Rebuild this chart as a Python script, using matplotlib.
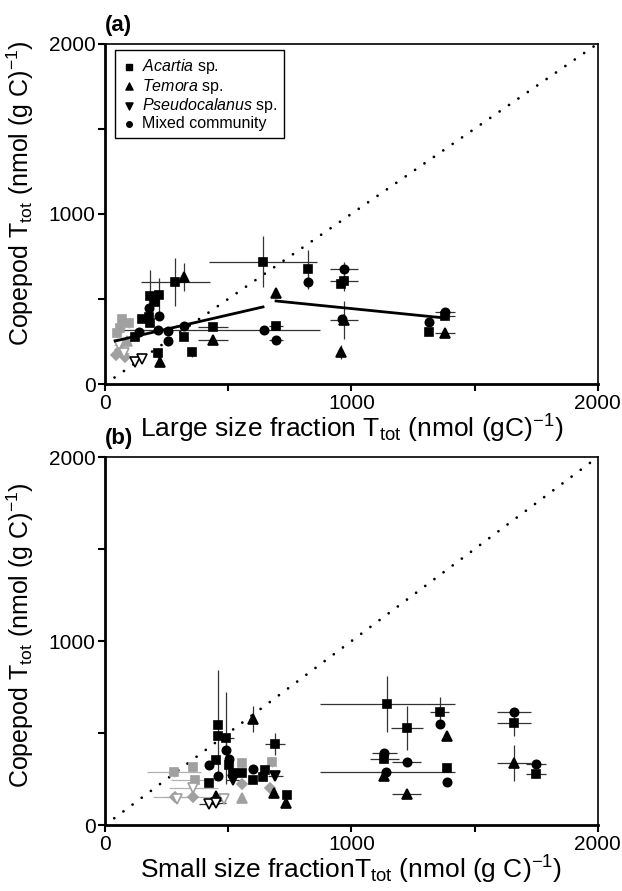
import matplotlib.pyplot as plt
import matplotlib.ticker as mticker

plt.rcParams['font.family'] = ['Liberation Sans', 'DejaVu Sans']
plt.rcParams['mathtext.fontset'] = 'custom'
plt.rcParams['mathtext.rm'] = 'Liberation Sans'
plt.rcParams['mathtext.it'] = 'Liberation Sans:italic'
plt.rcParams['mathtext.bf'] = 'Liberation Sans:bold'

# ---------------- panel (a): large size fraction ----------------
a_acartia_x = [641, 823, 970, 957, 284, 183, 219, 203, 150, 183, 179, 438, 694, 122, 320, 353, 215, 1314, 1379]
a_acartia_y = [718, 676, 606, 588, 600, 518, 524, 482, 382, 359, 394, 335, 341, 276, 276, 188, 182, 306, 400]
a_acartia_xe = [220, 0, 55, 0, 140, 0, 0, 0, 0, 0, 0, 60, 30, 0, 0, 0, 0, 0, 40]
a_acartia_ye = [150, 110, 60, 0, 140, 150, 100, 0, 0, 0, 0, 0, 0, 0, 0, 30, 30, 0, 0]

a_temora_x = [320, 694, 957, 970, 438, 223, 1379]
a_temora_y = [629, 535, 188, 376, 259, 129, 300]
a_temora_xe = [0, 0, 0, 55, 60, 0, 40]
a_temora_ye = [80, 0, 40, 110, 0, 0, 30]

a_pseudo_x = [122, 150]
a_pseudo_y = [129, 147]

a_mixed_x = [823, 970, 963, 645, 694, 1314, 1379, 179, 219, 320, 215, 256, 256, 138]
a_mixed_y = [600, 676, 382, 318, 259, 365, 424, 447, 400, 341, 318, 312, 253, 306]
a_mixed_xe_lo = [0, 55, 0, 572, 30, 0, 40, 0, 0, 0, 0, 0, 0, 0]
a_mixed_xe_hi = [0, 55, 0, 227, 30, 0, 40, 0, 0, 0, 0, 0, 0, 0]
a_mixed_ye = [40, 40, 0, 0, 0, 0, 0, 60, 0, 0, 0, 0, 0, 0]

a_grey_sq_x = [70, 95, 60, 50]
a_grey_sq_y = [380, 360, 330, 300]
a_grey_ci_x = [45, 60, 80]
a_grey_ci_y = [170, 200, 160]
a_grey_open_x = [55, 75]
a_grey_open_y = [230, 185]
a_grey_tri_x = [90]
a_grey_tri_y = [250]

a_fit1_x = [41, 641]
a_fit1_y = [253, 453]
a_fit2_x = [694, 1379]
a_fit2_y = [488, 388]

# ---------------- panel (b): small size fraction ----------------
b_acartia_x = [1146, 1224, 1358, 1659, 1748, 1134, 1390, 460, 460, 492, 691, 451, 504, 423, 520, 557, 602, 650, 643, 740]
b_acartia_y = [658, 527, 614, 554, 277, 359, 310, 543, 484, 473, 440, 353, 326, 228, 283, 283, 245, 299, 261, 163]
b_acartia_xe_lo = [272, 65, 40, 70, 40, 60, 0, 0, 0, 30, 40, 0, 0, 0, 0, 0, 0, 0, 0, 0]
b_acartia_xe_hi = [273, 65, 40, 70, 40, 60, 0, 0, 0, 30, 40, 0, 0, 0, 0, 0, 0, 0, 0, 0]
b_acartia_ye = [150, 120, 80, 70, 0, 0, 0, 300, 0, 250, 60, 0, 0, 0, 0, 0, 0, 0, 0, 0]

b_temora_x = [602, 1390, 1659, 1134, 1224, 687, 736, 451]
b_temora_y = [576, 484, 337, 266, 168, 174, 120, 158]
b_temora_xe = [0, 0, 70, 0, 60, 0, 0, 0]
b_temora_ye = [70, 0, 100, 0, 0, 0, 0, 0]

b_pseudo_x = [520, 691]
b_pseudo_y = [245, 266]
b_pseudo_open_x = [423, 451]
b_pseudo_open_y = [114, 120]

b_mixed_x = [1358, 1659, 1748, 1134, 1224, 1142, 1390, 492, 504, 423, 459, 602]
b_mixed_y = [549, 614, 332, 391, 342, 288, 234, 408, 359, 326, 266, 304]
b_mixed_xe_lo = [0, 70, 40, 50, 60, 268, 0, 0, 0, 0, 0, 0]
b_mixed_xe_hi = [0, 70, 40, 50, 60, 277, 0, 0, 0, 0, 0, 0]
b_mixed_ye = [0, 0, 0, 0, 0, 0, 0, 60, 0, 0, 0, 0]

b_grey_sq_x = [280, 358, 366, 557, 679]
b_grey_sq_y = [288, 315, 245, 337, 342]
b_grey_sq_xe = [110, 0, 100, 0, 0]
b_grey_ci_x = [285, 358, 557, 671]
b_grey_ci_y = [152, 152, 223, 201]
b_grey_ci_xe = [90, 120, 0, 0]
b_grey_open_x = [358, 484, 290]
b_grey_open_y = [201, 141, 140]
b_grey_open_xe = [100, 0, 0]
b_grey_tri_x = [557]
b_grey_tri_y = [147]

BLACK = 'black'
GREY = '#a0a0a0'
EBAR = '#333333'
EBAR_G = '#b0b0b0'


def style_axes(ax, xlabel, ylab_y):
    ax.set_xlim(0, 2000)
    ax.set_ylim(0, 2000)
    ax.xaxis.set_major_locator(mticker.MultipleLocator(1000))
    ax.yaxis.set_major_locator(mticker.MultipleLocator(1000))
    ax.xaxis.set_minor_locator(mticker.MultipleLocator(500))
    ax.yaxis.set_minor_locator(mticker.MultipleLocator(500))
    ax.tick_params(which='both', direction='out', length=5, width=1.5, labelsize=15, pad=2)
    for s in ['left', 'bottom']:
        ax.spines[s].set_linewidth(2)
    for s in ['top', 'right']:
        ax.spines[s].set_linewidth(1.2)
    ax.set_xlabel(xlabel, fontsize=19, labelpad=0)
    ax.set_ylabel(r'Copepod T$_{\mathregular{tot}}$ (nmol (g C)$^{\mathregular{-1}}$)', fontsize=18)
    ax.yaxis.set_label_coords(-0.14, ylab_y)
    ax.plot([0, 2000], [0, 2000], color='black', lw=2, linestyle=(0, (0.01, 4.1)),
            dash_capstyle='round', zorder=1)


def eb(ax, x, y, xerr, yerr, marker, color, ecolor, ms, mfc=None, label=None):
    ax.errorbar(x, y, xerr=xerr, yerr=yerr, fmt=marker, color=color, ecolor=ecolor,
                elinewidth=0.9, capsize=0, ms=ms, mfc=mfc if mfc else color,
                mec=color, mew=1.2, label=label, zorder=3)


fig = plt.figure(figsize=(6.22, 8.91), dpi=100)
ax1 = fig.add_axes([0.169, 0.569, 0.792, 0.382])
ax2 = fig.add_axes([0.169, 0.074, 0.792, 0.413])

# panel a
style_axes(ax1, r'Large size fraction T$_{\mathregular{tot}}$ (nmol (gC)$^{\mathregular{-1}}$)', 0.56)
eb(ax1, a_grey_sq_x, a_grey_sq_y, 20, 30, 's', GREY, EBAR_G, 6)
eb(ax1, a_grey_ci_x, a_grey_ci_y, 20, 20, 'D', GREY, EBAR_G, 5.5)
eb(ax1, a_grey_open_x, a_grey_open_y, 20, 20, 'v', GREY, EBAR_G, 6.5, mfc='white')
eb(ax1, a_grey_tri_x, a_grey_tri_y, 20, 20, '^', GREY, EBAR_G, 6.5)
eb(ax1, a_acartia_x, a_acartia_y, a_acartia_xe, a_acartia_ye, 's', BLACK, EBAR, 6)
eb(ax1, a_temora_x, a_temora_y, a_temora_xe, a_temora_ye, '^', BLACK, EBAR, 6.5)
eb(ax1, a_pseudo_x, a_pseudo_y, 0, 0, 'v', BLACK, EBAR, 6.5, mfc='white')
eb(ax1, a_mixed_x, a_mixed_y, [a_mixed_xe_lo, a_mixed_xe_hi], a_mixed_ye, 'o', BLACK, EBAR, 6)
ax1.plot(a_fit1_x, a_fit1_y, color='black', lw=2, zorder=4)
ax1.plot(a_fit2_x, a_fit2_y, color='black', lw=2, zorder=4)

# legend handles
h_ac = ax1.scatter([], [], marker='s', color='black', s=22)
h_te = ax1.scatter([], [], marker='^', color='black', s=26)
h_ps = ax1.scatter([], [], marker='v', color='black', s=26)
h_mi = ax1.scatter([], [], marker='o', color='black', s=16)
leg = ax1.legend([h_ac, h_te, h_ps, h_mi],
                 [r'$\mathit{Acartia}$ sp.', r'$\mathit{Temora}$ sp.',
                  r'$\mathit{Pseudocalanus}$ sp.', 'Mixed community'],
                 loc='upper left', bbox_to_anchor=(0.02, 0.98), fontsize=11.5,
                 frameon=True, fancybox=False, edgecolor='black', framealpha=1,
                 handletextpad=0.3, handlelength=1.0, borderpad=0.4, labelspacing=0.05,
                 borderaxespad=0)
leg.get_frame().set_linewidth(1)
ax1.text(0.0, 2045, '(a)', fontsize=16, fontweight='bold', ha='left', va='bottom')

# panel b
style_axes(ax2, r'Small size fractionT$_{\mathregular{tot}}$ (nmol (g C)$^{\mathregular{-1}}$)', 0.515)
eb(ax2, b_grey_sq_x, b_grey_sq_y, b_grey_sq_xe, 25, 's', GREY, EBAR_G, 6)
eb(ax2, b_grey_ci_x, b_grey_ci_y, b_grey_ci_xe, 20, 'D', GREY, EBAR_G, 5.5)
eb(ax2, b_grey_open_x, b_grey_open_y, b_grey_open_xe, 20, 'v', GREY, EBAR_G, 6.5, mfc='white')
eb(ax2, b_grey_tri_x, b_grey_tri_y, 0, 0, '^', GREY, EBAR_G, 6.5)
eb(ax2, b_acartia_x, b_acartia_y, [b_acartia_xe_lo, b_acartia_xe_hi], b_acartia_ye, 's', BLACK, EBAR, 6)
eb(ax2, b_temora_x, b_temora_y, b_temora_xe, b_temora_ye, '^', BLACK, EBAR, 6.5)
eb(ax2, b_pseudo_x, b_pseudo_y, 30, 0, 'v', BLACK, EBAR, 6.5)
eb(ax2, b_pseudo_open_x, b_pseudo_open_y, 40, 0, 'v', BLACK, EBAR, 6.5, mfc='white')
eb(ax2, b_mixed_x, b_mixed_y, [b_mixed_xe_lo, b_mixed_xe_hi], b_mixed_ye, 'o', BLACK, EBAR, 6)
ax2.text(0.0, 2045, '(b)', fontsize=16, fontweight='bold', ha='left', va='bottom')

fig.savefig('out.png', dpi=100)
